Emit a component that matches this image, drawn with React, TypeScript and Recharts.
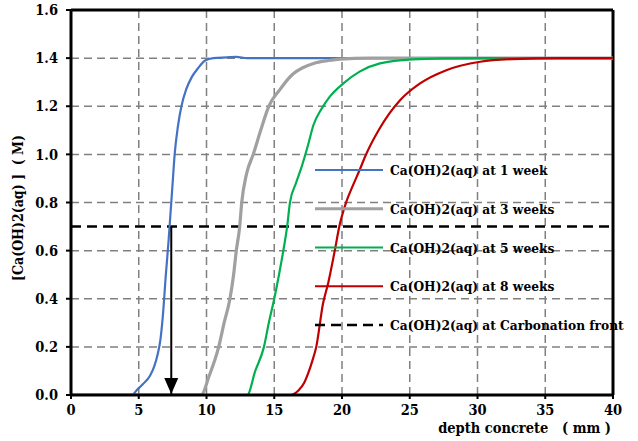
import { CartesianGrid, Label, Line, LineChart, ReferenceLine, XAxis, YAxis } from "recharts";

// depth (mm) / concentration (M)
const DEPTH_1W = [0, 4.5, 4.85, 5.3, 5.83, 6.15, 6.4, 6.6, 6.78, 7.0, 7.2, 7.35, 7.5, 7.65, 7.9, 8.15, 8.5, 8.9, 9.4, 9.9, 10.5, 11.5, 12.2, 13, 40];
const CONC_1W = [0, 0, 0.02, 0.045, 0.08, 0.12, 0.17, 0.23, 0.33, 0.5, 0.64, 0.76, 0.88, 1.0, 1.12, 1.2, 1.27, 1.32, 1.36, 1.39, 1.4, 1.403, 1.405, 1.4, 1.4];

const DEPTH_3W = [0, 8.5, 9.6, 10.2, 10.9, 11.3, 11.73, 12.0, 12.2, 12.45, 12.6, 12.96, 13.45, 14.0, 14.6, 15.4, 16.3, 17.1, 17.9, 19.0, 19.85, 22, 25, 40];
const CONC_3W = [0, 0, 0, 0.08, 0.2, 0.3, 0.4, 0.5, 0.6, 0.7, 0.8, 0.92, 1.0, 1.1, 1.2, 1.268, 1.33, 1.36, 1.378, 1.39, 1.396, 1.4, 1.4, 1.4];

const DEPTH_5W = [0, 13.0, 13.6, 14.24, 14.6, 15.0, 15.35, 15.67, 15.95, 16.16, 16.6, 17.03, 17.5, 17.88, 18.5, 19.1, 20.1, 21.3, 22.8, 25.2, 28, 30, 40];
const CONC_5W = [0, 0, 0.1, 0.2, 0.3, 0.4, 0.5, 0.6, 0.7, 0.8, 0.88, 0.95, 1.04, 1.12, 1.19, 1.24, 1.295, 1.344, 1.378, 1.395, 1.399, 1.4, 1.4];

const DEPTH_8W = [0, 16.2, 16.8, 17.2, 17.5, 17.8, 18.1, 18.6, 19.0, 19.5, 19.8, 20.3, 20.8, 21.3, 21.7, 22.7, 23.5, 24.3, 25.76, 27.7, 30.2, 32.6, 36, 40];
const CONC_8W = [0, 0, 0.02, 0.05, 0.09, 0.14, 0.2, 0.38, 0.47, 0.61, 0.7, 0.8, 0.87, 0.935, 0.99, 1.1, 1.17, 1.226, 1.295, 1.35, 1.385, 1.396, 1.4, 1.4];

const FRONT_CONC = 0.7;
const ARROW_DEPTH = [7.4, 7.4];
const ARROW_CONC = [0.7, 0];

const X_TICKS = [0, 5, 10, 15, 20, 25, 30, 35, 40];
const Y_TICKS = [0, 0.2, 0.4, 0.6, 0.8, 1.0, 1.2, 1.4, 1.6];

// only DejaVu Serif resolves as a serif face here; condensed gets closest to Times widths
const textStyle = { fontFamily: "'DejaVu Serif', serif", fontWeight: 700, fontStretch: "condensed" } as const;

const zip = (xs: number[], ys: number[]) => xs.map((x, i) => ({ x, y: ys[i] }));

const SERIES = [
  { name: "Ca(OH)2(aq) at 1 week", data: zip(DEPTH_1W, CONC_1W), color: "#4472C4", width: 2.2 },
  { name: "Ca(OH)2(aq) at 3 weeks", data: zip(DEPTH_3W, CONC_3W), color: "#A0A0A0", width: 3.2 },
  { name: "Ca(OH)2(aq) at 5 weeks", data: zip(DEPTH_5W, CONC_5W), color: "#00B050", width: 2.2 },
  { name: "Ca(OH)2(aq) at 8 weeks", data: zip(DEPTH_8W, CONC_8W), color: "#C00000", width: 2.2 },
];

const tickStyle = { fontSize: 14.5, fill: "#000", style: textStyle };

function LegendBox() {
  const rows = [
    ...SERIES.map((s) => ({ name: s.name, color: s.color, width: s.width, dash: undefined as string | undefined })),
    { name: "Ca(OH)2(aq) at Carbonation front", color: "#000", width: 2.5, dash: "10 6" },
  ];
  return (
    <svg width={324} height={200} style={{ position: "absolute", left: 314, top: 158 }}>
      {rows.map((r, i) => {
        const y = 12 + i * 38.75;
        return (
          <g key={r.name}>
            <line x1={1} x2={69} y1={y} y2={y} stroke={r.color} strokeWidth={r.width} strokeDasharray={r.dash} />
            <text x={76} y={y + 5} fontSize={13.6} fill="#000" style={textStyle}>
              {r.name}
            </text>
          </g>
        );
      })}
    </svg>
  );
}

export default function App() {
  return (
    <div style={{ position: "absolute", left: 0, top: 0, width: 638, height: 441, background: "#fff" }}>
      <LineChart width={638} height={441} margin={{ top: 10, right: 25, bottom: 0, left: 0 }}>
        <CartesianGrid stroke="#808080" strokeWidth={1.5} strokeDasharray="8 5" />
        <XAxis
          dataKey="x"
          type="number"
          domain={[0, 40]}
          ticks={X_TICKS}
          height={46}
          tick={tickStyle}
          tickSize={4}
          tickMargin={6}
          axisLine={{ stroke: "#000", strokeWidth: 3 }}
          tickLine={{ stroke: "#000", strokeWidth: 2 }}
          allowDataOverflow
        >
          <Label
            content={() => (
              <text x={611} y={433} textAnchor="end" fontSize={14.5} fill="#000" style={{ ...textStyle, whiteSpace: "pre" }}>
                {"depth concrete   ( mm )"}
              </text>
            )}
          />
        </XAxis>
        <YAxis
          dataKey="y"
          type="number"
          domain={[0, 1.6]}
          ticks={Y_TICKS}
          width={71}
          tick={tickStyle}
          tickFormatter={(v: number) => v.toFixed(1)}
          tickSize={5}
          tickMargin={8}
          axisLine={{ stroke: "#000", strokeWidth: 3 }}
          tickLine={{ stroke: "#000", strokeWidth: 2 }}
          allowDataOverflow
        >
          <Label
            content={() => (
              <text
                x={18}
                y={208}
                transform="rotate(-90, 18, 208)"
                textAnchor="middle"
                dominantBaseline="central"
                fontSize={14}
                fill="#000"
                style={{ ...textStyle, whiteSpace: "pre" }}
              >
                {"[Ca(OH)2(aq) ]  ( M)"}
              </text>
            )}
          />
        </YAxis>
        <ReferenceLine y={1.6} stroke="#000" strokeWidth={3} />
        <ReferenceLine x={40} stroke="#000" strokeWidth={3} />
        <ReferenceLine y={FRONT_CONC} stroke="#000" strokeWidth={2.5} strokeDasharray="10 6" />
        {SERIES.map((s) => (
          <Line
            key={s.name}
            data={s.data}
            dataKey="y"
            name={s.name}
            type="monotone"
            stroke={s.color}
            strokeWidth={s.width}
            dot={false}
            isAnimationActive={false}
          />
        ))}
        <Line
          data={zip(ARROW_DEPTH, ARROW_CONC)}
          dataKey="y"
          type="linear"
          stroke="#000"
          strokeWidth={2}
          isAnimationActive={false}
          dot={(p: any) =>
            p.index === 1 ? (
              <path key="head" d={`M${p.cx},${p.cy - 1} l-7,-16 l14,0 z`} fill="#000" />
            ) : (
              <g key={`d${p.index}`} />
            )
          }
        />
      </LineChart>
      <LegendBox />
    </div>
  );
}
